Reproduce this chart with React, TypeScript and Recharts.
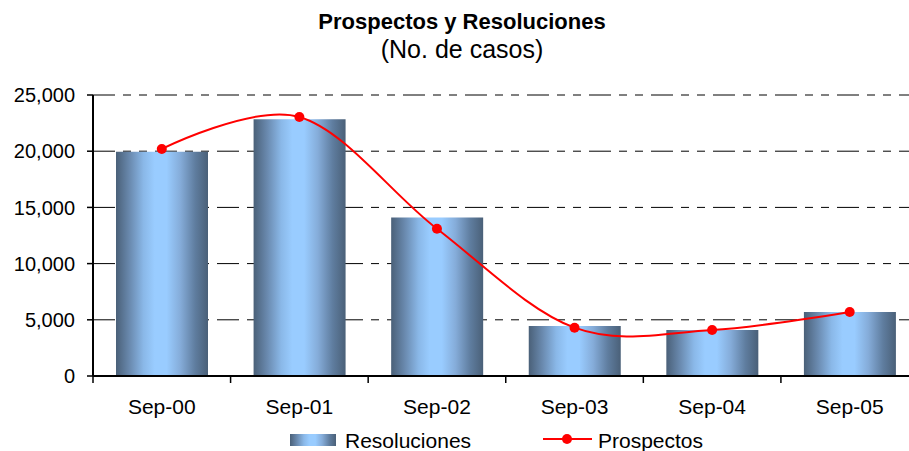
import { ComposedChart, Bar, Line, XAxis, YAxis, CartesianGrid, Legend } from 'recharts';

const months = ['Sep-00', 'Sep-01', 'Sep-02', 'Sep-03', 'Sep-04', 'Sep-05'];
const resoluciones = [19950, 22850, 14100, 4450, 4100, 5700];
const prospectos = [20200, 23050, 13100, 4300, 4100, 5700];
const yTicks = [0, 5000, 10000, 15000, 20000, 25000];

const data = months.map((month, i) => ({
  month,
  resoluciones: resoluciones[i],
  prospectos: prospectos[i],
}));

const FONT = '"Liberation Sans", Arial, sans-serif';
const TICK_SIZE = 6;
const TICK_MARGIN = 17;

// Excel-style smoothed line (Catmull-Rom / cardinal, tension 0)
function smoothCurve(context: any) {
  const k = 1 / 6;
  let x0 = NaN, x1 = NaN, x2 = NaN, y0 = NaN, y1 = NaN, y2 = NaN;
  let state = 0;
  let line = NaN;
  const seg = (x: number, y: number) => {
    context.bezierCurveTo(
      x1 + k * (x2 - x0),
      y1 + k * (y2 - y0),
      x2 + k * (x1 - x),
      y2 + k * (y1 - y),
      x2,
      y2
    );
  };
  return {
    areaStart() {
      line = 0;
    },
    areaEnd() {
      line = NaN;
    },
    lineStart() {
      x0 = x1 = x2 = y0 = y1 = y2 = NaN;
      state = 0;
    },
    lineEnd() {
      if (state === 2) context.lineTo(x2, y2);
      else if (state === 3) seg(x1, y1);
      if (line || (line !== 0 && state === 1)) context.closePath();
      line = 1 - line;
    },
    point(x: number, y: number) {
      x = +x;
      y = +y;
      if (state === 0) {
        state = 1;
        if (line) context.lineTo(x, y);
        else context.moveTo(x, y);
      } else if (state === 1) {
        state = 2;
        x1 = x;
        y1 = y;
      } else {
        state = 3;
        seg(x, y);
      }
      x0 = x1; x1 = x2; x2 = x;
      y0 = y1; y1 = y2; y2 = y;
    },
  };
}

function MonthTick(props: any) {
  const { x, y, payload } = props;
  const half = payload.offset ?? 68.8;
  const axisY = y - TICK_SIZE - TICK_MARGIN;
  return (
    <g>
      <line x1={x - half} x2={x - half} y1={axisY} y2={axisY + TICK_SIZE + 1} stroke="#000" strokeWidth={1.5} />
      <text x={x} y={y} dy="0.71em" textAnchor="middle" fontSize={21} fontFamily={FONT} fill="#000">
        {payload.value}
      </text>
    </g>
  );
}

const barGradientCss =
  'linear-gradient(to right, #4a6078 0%, #6a8aaf 15%, #8ab8e8 30%, #99ccff 42%, #99ccff 55%, #85acd9 70%, #5f7d9f 86%, #4a6078 100%)';

function ChartLegend() {
  const text = { position: 'absolute' as const, fontSize: 21, lineHeight: '21px', fontFamily: FONT, color: '#000', whiteSpace: 'nowrap' as const };
  return (
    <div style={{ position: 'relative', width: 909, height: 26 }}>
      <div style={{ position: 'absolute', left: 290, top: 8, width: 46, height: 12, background: barGradientCss }} />
      <div style={{ ...text, left: 345, top: 4 }}>Resoluciones</div>
      <svg style={{ position: 'absolute', left: 540, top: 6 }} width={56} height={14}>
        <line x1={3} x2={52} y1={7} y2={7} stroke="#ff0000" strokeWidth={2} />
        <circle cx={27} cy={7} r={5} fill="#ff0000" />
      </svg>
      <div style={{ ...text, left: 598, top: 4 }}>Prospectos</div>
    </div>
  );
}

export default function App() {
  return (
    <div
      style={{
        position: 'absolute',
        left: 0,
        top: 0,
        width: 909,
        height: 451,
        overflow: 'hidden',
        background: '#fff',
        fontFamily: FONT,
      }}
    >
      <div
        style={{
          position: 'absolute',
          left: 462,
          top: 12.4,
          transform: 'translateX(-50%)',
          whiteSpace: 'nowrap',
          fontSize: 22,
          lineHeight: '20px',
          fontWeight: 'bold',
        }}
      >
        Prospectos y Resoluciones
      </div>
      <div
        style={{
          position: 'absolute',
          left: 462,
          top: 36.8,
          transform: 'translateX(-50%)',
          whiteSpace: 'nowrap',
          fontSize: 25,
          lineHeight: '24px',
        }}
      >
        (No. de casos)
      </div>
      <ComposedChart
        width={930}
        height={451}
        data={data}
        margin={{ top: 95, right: 11.5, bottom: 35, left: 0 }}
        style={{ position: 'absolute', left: 0, top: 0 }}
      >
        <defs>
          <linearGradient id="barGrad" x1="0" y1="0" x2="1" y2="0">
            <stop offset="0%" stopColor="#4a6078" />
            <stop offset="15%" stopColor="#6a8aaf" />
            <stop offset="30%" stopColor="#8ab8e8" />
            <stop offset="42%" stopColor="#99ccff" />
            <stop offset="55%" stopColor="#99ccff" />
            <stop offset="70%" stopColor="#85acd9" />
            <stop offset="86%" stopColor="#5f7d9f" />
            <stop offset="100%" stopColor="#4a6078" />
          </linearGradient>
        </defs>
        <CartesianGrid vertical={false} stroke="#000" strokeDasharray="22 8 8 8 8 8" />
        <XAxis
          dataKey="month"
          height={40}
          axisLine={{ stroke: '#000', strokeWidth: 2 }}
          tickLine={false}
          tickSize={TICK_SIZE}
          tickMargin={TICK_MARGIN}
          tick={(p: any) => <MonthTick {...p} />}
          interval={0}
        />
        <YAxis
          width={93}
          domain={[0, 25000]}
          ticks={yTicks}
          interval={0}
          tickFormatter={(v: number) => v.toLocaleString('en-US')}
          axisLine={{ stroke: '#000', strokeWidth: 2 }}
          tickLine={{ stroke: '#000', strokeWidth: 1.5 }}
          tickSize={TICK_SIZE}
          tickMargin={12}
          tick={{ fontSize: 20, fontFamily: FONT, fill: '#000' }}
        />
        <Bar dataKey="resoluciones" name="Resoluciones" fill="url(#barGrad)" barSize={92} isAnimationActive={false} />
        <Line
          dataKey="prospectos"
          name="Prospectos"
          type={smoothCurve as any}
          stroke="#ff0000"
          strokeWidth={2}
          dot={{ r: 5, fill: '#ff0000', stroke: 'none' }}
          activeDot={false}
          isAnimationActive={false}
        />
        <Legend
          layout="horizontal"
          verticalAlign="middle"
          align="center"
          wrapperStyle={{ top: 426, left: 0, width: 909, height: 26 }}
          content={() => <ChartLegend />}
        />
      </ComposedChart>
    </div>
  );
}
